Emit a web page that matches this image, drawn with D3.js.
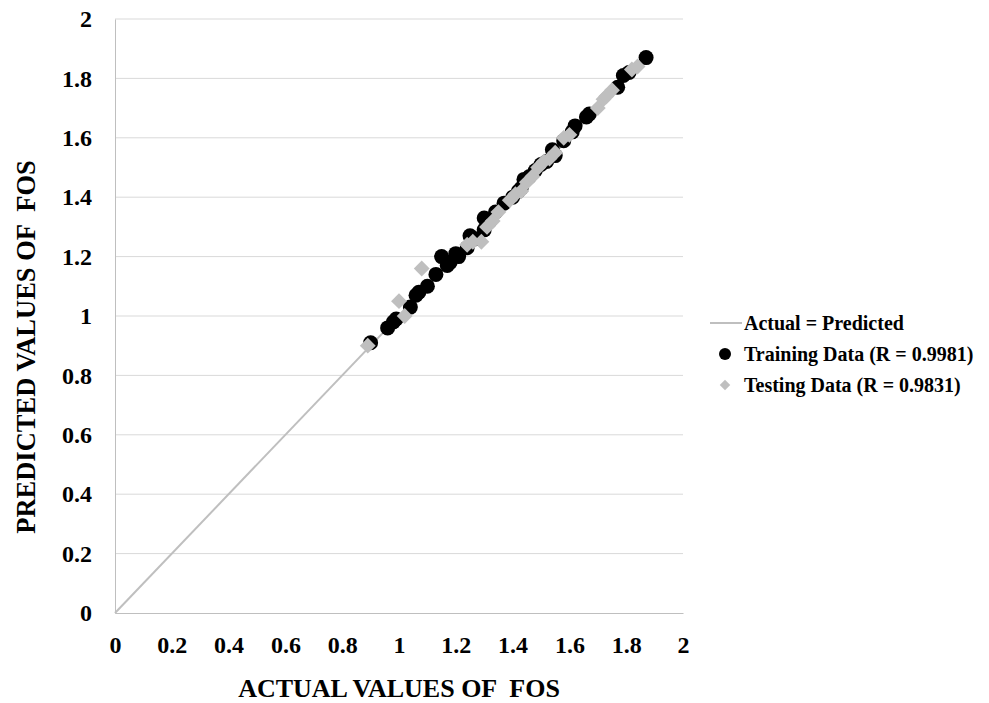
<!DOCTYPE html>
<html>
<head>
<meta charset="utf-8">
<script src="https://cdn.jsdelivr.net/npm/d3@7"></script>
<style>
  body { margin: 0; background: #fff; }
  text { font-family: "Liberation Serif", "Times New Roman", serif; font-weight: bold; white-space: pre; }
</style>
</head>
<body>
<div id="chart"></div>
<script>
// training data (black circles)
const trainX = [0.90, 0.96, 0.98, 0.99, 1.04, 1.06, 1.07, 1.10, 1.13, 1.15, 1.17, 1.18, 1.20, 1.21,
  1.24, 1.25, 1.27, 1.30, 1.30, 1.32, 1.34, 1.37, 1.40, 1.42, 1.44, 1.43, 1.46, 1.48, 1.50, 1.52,
  1.54, 1.55, 1.58, 1.61, 1.62, 1.66, 1.67, 1.77, 1.79, 1.81, 1.87];
const trainY = [0.91, 0.96, 0.98, 0.99, 1.03, 1.07, 1.08, 1.10, 1.14, 1.20, 1.17, 1.18, 1.21, 1.20,
  1.23, 1.27, 1.26, 1.29, 1.33, 1.32, 1.35, 1.38, 1.40, 1.42, 1.46, 1.43, 1.47, 1.49, 1.51, 1.52,
  1.56, 1.54, 1.59, 1.62, 1.64, 1.67, 1.68, 1.77, 1.81, 1.82, 1.87];

// testing data (grey diamonds)
const testX = [0.89, 1.00, 1.02, 1.08, 1.24, 1.26, 1.29, 1.31, 1.33, 1.35, 1.39, 1.41, 1.43, 1.45,
  1.47, 1.49, 1.51, 1.53, 1.55, 1.58, 1.60, 1.70, 1.72, 1.73, 1.75, 1.82, 1.84];
const testY = [0.90, 1.05, 1.00, 1.16, 1.24, 1.25, 1.25, 1.30, 1.32, 1.35, 1.39, 1.41, 1.42, 1.45,
  1.47, 1.50, 1.52, 1.53, 1.55, 1.60, 1.61, 1.70, 1.73, 1.74, 1.76, 1.83, 1.84];

// actual = predicted line
const lineVals = [0, 1.85];

const ticks = [0, 0.2, 0.4, 0.6, 0.8, 1, 1.2, 1.4, 1.6, 1.8, 2];

const legendItems = ["Actual = Predicted", "Training Data (R = 0.9981)", "Testing Data (R = 0.9831)"];

const width = 989, height = 703;
const m = { left: 115, right: 306, top: 19, bottom: 90 };

const svg = d3.select("#chart").append("svg")
  .attr("width", width)
  .attr("height", height);

const x = d3.scaleLinear().domain([0, 2]).range([m.left, width - m.right]);
const y = d3.scaleLinear().domain([0, 2]).range([height - m.bottom, m.top]);

// gridlines
svg.append("g")
  .selectAll("line")
  .data(ticks.slice(1))
  .enter()
  .append("line")
  .attr("x1", x(0)).attr("x2", x(2))
  .attr("y1", d => y(d)).attr("y2", d => y(d))
  .style("stroke", "#d9d9d9")
  .style("stroke-width", 1);

// axes
const xAxis = svg.append("g")
  .attr("transform", `translate(0,${y(0)})`)
  .call(d3.axisBottom(x).tickValues(ticks).tickSize(0).tickPadding(23).tickFormat(d3.format("")));
const yAxis = svg.append("g")
  .attr("transform", `translate(${x(0)},0)`)
  .call(d3.axisLeft(y).tickValues(ticks).tickSize(0).tickPadding(23).tickFormat(d3.format("")));

[xAxis, yAxis].forEach(a => {
  a.select(".domain").style("stroke", "#bfbfbf").style("stroke-width", 1);
  a.selectAll("text")
    .style("font-family", "'Liberation Serif', serif")
    .style("font-weight", "bold")
    .style("font-size", "24px")
    .style("fill", "#000");
});

// diagonal line
svg.append("line")
  .attr("x1", x(lineVals[0])).attr("y1", y(lineVals[0]))
  .attr("x2", x(lineVals[1])).attr("y2", y(lineVals[1]))
  .style("stroke", "#bfbfbf")
  .style("stroke-width", 2);

// training points
svg.append("g")
  .selectAll("circle")
  .data(trainX)
  .enter()
  .append("circle")
  .attr("cx", d => x(d))
  .attr("cy", (d, i) => y(trainY[i]))
  .attr("r", 7.5)
  .style("fill", "#000");

// testing points
const diamond = d3.symbol().type(d3.symbolDiamond2).size(160);
svg.append("g")
  .selectAll("path")
  .data(testX)
  .enter()
  .append("path")
  .attr("transform", (d, i) => `translate(${x(d)},${y(testY[i])})`)
  .attr("d", diamond)
  .style("fill", "#bfbfbf");

// axis titles
svg.append("text")
  .attr("x", (x(0) + x(2)) / 2)
  .attr("y", 697)
  .attr("text-anchor", "middle")
  .style("font-size", "26px")
  .text("ACTUAL VALUES OF  FOS");

svg.append("text")
  .attr("transform", "translate(35,347) rotate(-90)")
  .attr("text-anchor", "middle")
  .style("font-size", "26.5px")
  .text("PREDICTED VALUES OF  FOS");

// legend
const lg = svg.append("g").attr("transform", "translate(710,323)");
const items = lg.selectAll("g")
  .data(legendItems)
  .enter()
  .append("g")
  .attr("transform", (d, i) => `translate(0,${i * 31})`);

items.append("text")
  .attr("x", 34)
  .attr("y", 6.5)
  .style("font-size", "20px")
  .text(d => d);

lg.select("g:nth-child(1)").append("line")
  .attr("x1", 0).attr("x2", 32).attr("y1", 0).attr("y2", 0)
  .style("stroke", "#bfbfbf").style("stroke-width", 2);
lg.select("g:nth-child(2)").append("circle")
  .attr("cx", 15).attr("cy", 0).attr("r", 6)
  .style("fill", "#000");
lg.select("g:nth-child(3)").append("path")
  .attr("transform", "translate(15,0)")
  .attr("d", d3.symbol().type(d3.symbolDiamond2).size(70))
  .style("fill", "#bfbfbf");
</script>
</body>
</html>
